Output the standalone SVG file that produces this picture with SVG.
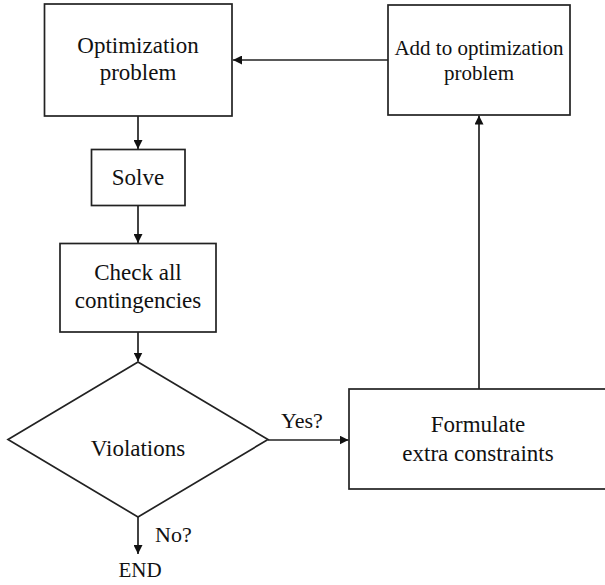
<svg xmlns="http://www.w3.org/2000/svg" width="605" height="585" viewBox="0 0 605 585">
<style>
.box{fill:#fff;stroke:#222;stroke-width:1.7}
.ln{fill:none;stroke:#222;stroke-width:1.7}
.t{font-size:23px;fill:#111;text-anchor:middle}
.sm{font-size:21px}
.lbl{font-size:22px;text-anchor:start}
</style>
<defs>
<marker id="ah" viewBox="0 0 10 10" refX="10" refY="5" markerWidth="9" markerHeight="9" markerUnits="userSpaceOnUse" orient="auto">
<path d="M0,0 L10,5 L0,10 z" fill="#111"/>
</marker>
</defs>
<rect width="605" height="585" fill="#fff"/>
<g font-family="'Liberation Serif', 'Times New Roman', serif">
<g id="connectors">
<line class="ln" x1="388" y1="60" x2="233" y2="60" marker-end="url(#ah)"/>
<line class="ln" x1="138" y1="116" x2="138" y2="149" marker-end="url(#ah)"/>
<line class="ln" x1="138" y1="205.5" x2="138" y2="243" marker-end="url(#ah)"/>
<line class="ln" x1="138" y1="332" x2="138" y2="361.5" marker-end="url(#ah)"/>
<line class="ln" x1="268" y1="440" x2="348.5" y2="440" marker-end="url(#ah)"/>
<line class="ln" x1="479" y1="389" x2="479" y2="115.5" marker-end="url(#ah)"/>
<line class="ln" x1="138" y1="517" x2="138" y2="554" marker-end="url(#ah)"/>
<text class="t lbl" x="281" y="428">Yes?</text>
<text class="t lbl" x="155" y="542">No?</text>
</g>
<g id="opt">
<rect class="box" x="44.5" y="4" width="187.5" height="112"/>
<text class="t" x="138" y="53">Optimization</text>
<text class="t" x="138" y="80">problem</text>
</g>
<g id="add">
<rect class="box" x="388" y="5" width="182" height="110"/>
<text class="t sm" x="479" y="55">Add to optimization</text>
<text class="t sm" x="479" y="80">problem</text>
</g>
<g id="solve">
<rect class="box" x="91.5" y="149.5" width="93.5" height="56"/>
<text class="t" x="138" y="185">Solve</text>
</g>
<g id="check">
<rect class="box" x="60" y="243.5" width="156" height="88.5"/>
<text class="t" x="138" y="280">Check all</text>
<text class="t" x="138" y="308">contingencies</text>
</g>
<g id="violations">
<polygon class="box" points="138,362 268,439.5 138,517 8,439.5"/>
<text class="t" x="138" y="456">Violations</text>
</g>
<g id="formulate">
<rect class="box" x="349" y="389" width="262" height="100"/>
<text class="t" x="478" y="432">Formulate</text>
<text class="t" x="478" y="461">extra constraints</text>
</g>
<g id="end">
<text class="t sm" x="140" y="577">END</text>
</g>
</g>
</svg>
